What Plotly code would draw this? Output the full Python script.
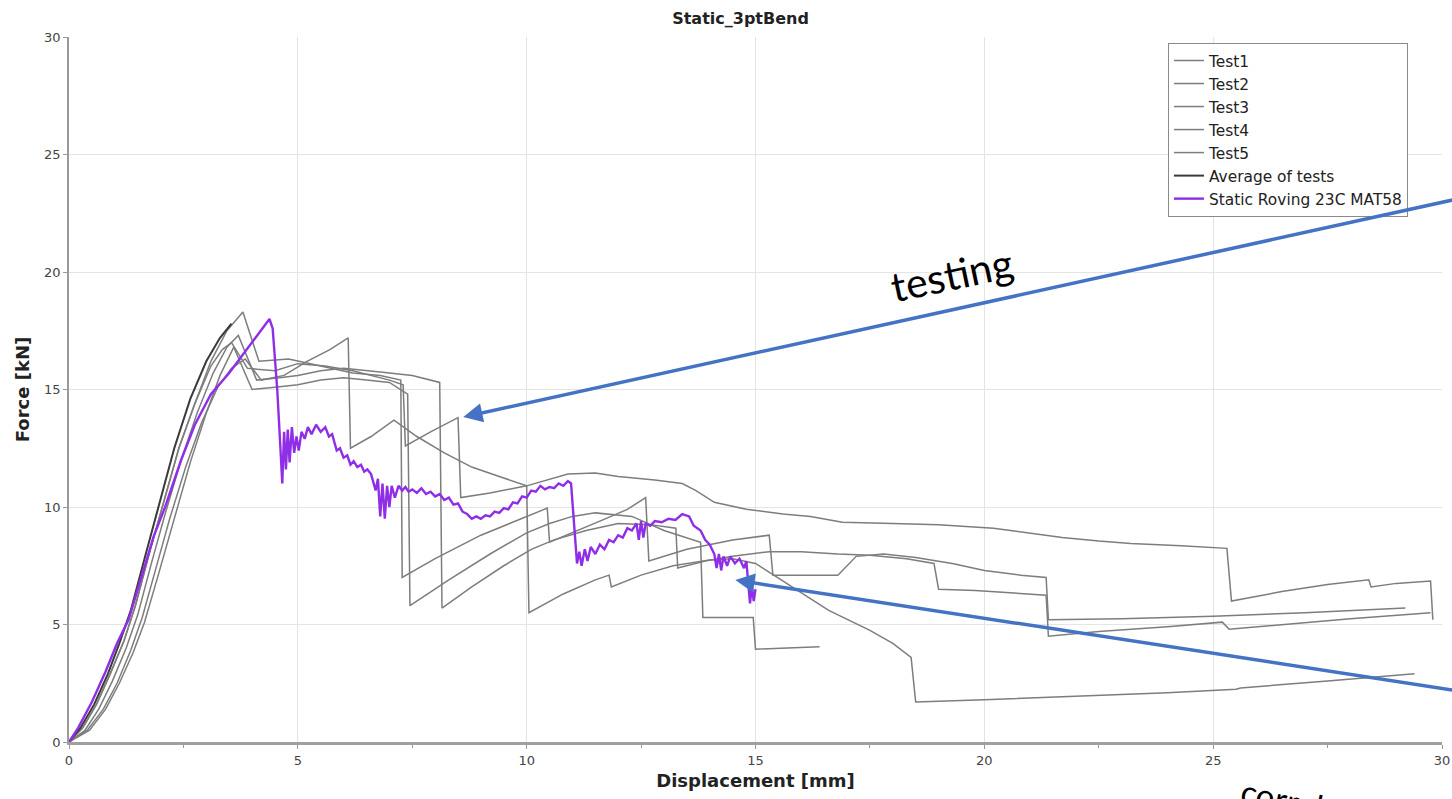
import plotly.graph_objects as go

# ---------------- data ----------------
test1_x = [0, 0.3, 0.6, 0.9, 1.2, 1.45, 1.75, 2.05, 2.4, 2.75, 3.1, 3.35, 3.55,
           3.9, 4.5, 5.0, 5.6, 6.2, 7.0, 7.3, 7.35, 7.9, 8.5, 8.56, 9.2, 10.0, 10.9, 11.5,
           12.0, 12.8, 13.4, 13.7, 14.1, 14.8, 15.6, 16.2, 16.9, 18.0, 19.0, 20.2, 21.0,
           21.7, 22.5, 23.2, 24.3, 25.3, 25.4, 26.5, 27.5, 28.4, 28.45, 29.0, 29.75, 29.8]
test1_y = [0, 0.6, 1.6, 2.9, 4.3, 5.8, 8.0, 10.1, 12.5, 14.4, 16.0, 16.7, 17.0,
           15.9, 15.8, 16.1, 16.0, 15.8, 15.4, 15.2, 12.6, 13.2, 13.8, 10.4, 10.6, 10.9, 11.4, 11.45,
           11.3, 11.15, 11.0, 10.7, 10.2, 9.9, 9.7, 9.6, 9.35, 9.3, 9.25, 9.1, 8.9,
           8.7, 8.55, 8.45, 8.35, 8.24, 6.0, 6.4, 6.7, 6.9, 6.6, 6.75, 6.85, 5.2]

test2_x = [0, 0.3, 0.6, 0.9, 1.2, 1.45, 1.75, 2.05, 2.4, 2.75, 3.1, 3.45, 3.8,
           4.15, 4.8, 5.5, 6.2, 6.8, 7.25, 7.28, 8.0, 9.0, 10.0, 10.45, 10.5, 11.0, 11.6,
           12.2, 12.6, 12.67, 13.5, 14.5, 15.3, 15.38, 16.2, 16.8, 17.2, 17.8, 18.5, 19.3,
           20.0, 20.8, 21.35, 21.4, 23.0, 25.0, 27.0, 29.2]
test2_y = [0, 0.6, 1.6, 2.9, 4.3, 5.8, 8.0, 10.1, 12.5, 14.4, 16.2, 17.5, 18.3,
           16.2, 16.3, 16.0, 15.7, 15.6, 15.4, 7.0, 7.8, 8.8, 9.6, 9.95, 8.5, 8.9, 9.4,
           9.9, 10.4, 7.7, 8.2, 8.6, 8.8, 7.1, 7.1, 7.1, 7.9, 8.0, 7.85, 7.6,
           7.3, 7.1, 7.0, 5.2, 5.25, 5.35, 5.5, 5.7]

test3_x = [0, 0.35, 0.65, 0.95, 1.25, 1.5, 1.8, 2.1, 2.45, 2.8, 3.15, 3.45, 3.7,
           4.1, 4.6, 5.0, 5.5, 6.0, 6.8, 7.5, 8.1, 8.15, 8.8, 9.5, 10.1, 10.6, 11.3, 12.0,
           12.7, 13.26, 13.3, 13.9, 14.5, 15.3, 16.0, 16.8, 17.5, 18.3, 18.9, 19.0, 19.8,
           20.6, 21.35, 21.4, 22.5, 24.0, 25.2, 25.35, 26.5, 28.0, 29.75]
test3_y = [0, 0.5, 1.4, 2.6, 4.0, 5.4, 7.6, 9.7, 12.0, 14.0, 15.7, 16.8, 17.3,
           15.4, 15.5, 15.6, 15.8, 15.9, 15.75, 15.6, 15.3, 5.7, 6.6, 7.5, 8.2, 8.6, 9.0, 9.3,
           9.25, 9.1, 7.4, 7.7, 7.9, 8.1, 8.1, 8.0, 7.95, 7.8, 7.6, 6.5, 6.45,
           6.35, 6.25, 4.5, 4.7, 4.9, 5.1, 4.8, 5.0, 5.25, 5.5]

test4_x = [0, 0.4, 0.75, 1.05, 1.35, 1.6, 1.9, 2.2, 2.55, 2.9, 3.25, 3.55, 3.85,
           4.2, 4.7, 5.2, 5.7, 6.1, 6.15, 6.6, 7.1, 7.6, 8.2, 8.8, 9.4, 10.0, 10.05, 10.8,
           11.5, 11.8, 11.85, 12.5, 13.2, 14.0, 14.5, 15.0, 15.8, 16.6, 17.5, 18.0, 18.4,
           18.5, 20.0, 22.0, 24.0, 25.5, 25.6, 27.5, 29.4]
test4_y = [0, 0.5, 1.4, 2.5, 3.9, 5.3, 7.4, 9.5, 11.7, 13.6, 15.1, 15.9, 16.3,
           15.4, 15.6, 16.2, 16.7, 17.2, 12.5, 13.0, 13.7, 13.0, 12.3, 11.7, 11.3, 10.9, 5.5, 6.3,
           6.9, 7.1, 6.6, 7.1, 7.5, 7.75, 7.8, 7.6, 6.6, 5.6, 4.75, 4.2, 3.6,
           1.7, 1.8, 1.95, 2.1, 2.25, 2.3, 2.6, 2.9]

test5_x = [0, 0.45, 0.8, 1.1, 1.4, 1.65, 1.95, 2.3, 2.65, 3.0, 3.3, 3.6,
           4.0, 4.5, 5.0, 5.5, 6.0, 6.5, 7.0, 7.4, 7.45, 8.3, 9.2, 10.0, 10.5, 11.0, 11.5,
           12.3, 13.0, 13.8, 13.85, 14.4, 14.95, 15.0, 15.7, 16.4]
test5_y = [0, 0.5, 1.4, 2.5, 3.8, 5.1, 7.1, 9.5, 11.9, 14.0, 15.6, 16.8,
           15.0, 15.1, 15.2, 15.4, 15.5, 15.4, 15.3, 14.8, 5.8, 6.9, 8.0, 8.9, 9.3, 9.6, 9.75,
           9.6, 9.0, 8.5, 5.3, 5.3, 5.3, 3.95, 4.0, 4.05]

avg_x = [0, 0.25, 0.55, 0.85, 1.1, 1.35, 1.65, 1.95, 2.3, 2.65, 3.0, 3.3, 3.55]
avg_y = [0, 0.6, 1.6, 2.9, 4.2, 5.6, 7.8, 10.0, 12.5, 14.6, 16.2, 17.2, 17.8]

sim_x = [0, 0.2, 0.5, 0.8, 1.05, 1.3, 1.55, 1.85, 2.1, 2.45, 2.75, 3.1, 3.5, 3.8, 4.1,
         4.38, 4.45, 4.55, 4.62, 4.66, 4.7, 4.74, 4.78, 4.82, 4.87, 4.92, 4.97, 5.02,
         5.08, 5.15, 5.22, 5.3, 5.4, 5.5,
         5.6, 5.68, 5.75, 5.85, 5.92, 6.0, 6.08, 6.15, 6.22, 6.3, 6.38, 6.45, 6.52, 6.6,
         6.7, 6.75, 6.8, 6.85, 6.9, 6.95, 7.0, 7.05, 7.12,
         7.2, 7.28, 7.35, 7.42, 7.5, 7.6, 7.7, 7.8, 7.9, 8.0, 8.1, 8.2, 8.3, 8.4, 8.5,
         8.6, 8.7, 8.8, 8.9, 9.0, 9.1, 9.2, 9.3, 9.4, 9.5, 9.6, 9.7, 9.8, 9.9, 10.0,
         10.1, 10.2, 10.3, 10.4, 10.5, 10.6, 10.7, 10.8, 10.9, 10.97,
         11.0, 11.05, 11.1, 11.15, 11.2, 11.27, 11.33, 11.4, 11.5, 11.6,
         11.7, 11.8, 11.9, 12.0, 12.1, 12.2, 12.3, 12.4, 12.45, 12.5, 12.55, 12.6, 12.7,
         12.8, 12.95, 13.1, 13.25, 13.4, 13.55, 13.65, 13.8, 13.9, 14.0, 14.1, 14.15,
         14.2, 14.25, 14.3, 14.38, 14.45, 14.55, 14.65, 14.75, 14.8, 14.85, 14.88,
         14.92, 14.96, 15.0]
sim_y = [0, 0.6, 1.7, 3.0, 4.2, 5.2, 6.8, 8.75, 10.0, 12.0, 13.5, 14.8, 15.7, 16.5, 17.3,
         18.0, 17.6, 15.0, 12.5, 11.0, 13.2, 11.6, 13.3, 11.9, 13.4, 12.3, 13.0, 12.4,
         13.2, 12.9, 13.4, 13.1, 13.5, 13.2,
         13.4, 13.0, 13.1, 12.4, 12.5, 12.1, 12.2, 11.8, 11.95, 11.7, 11.8, 11.5, 11.6, 11.4,
         10.7, 11.2, 9.6, 11.0, 9.5, 10.9, 10.0, 10.9, 10.4,
         10.9, 10.7, 10.85, 10.65, 10.75, 10.6, 10.8, 10.55, 10.65, 10.45, 10.55, 10.3, 10.4, 10.1, 10.15,
         9.8, 9.7, 9.5, 9.6, 9.5, 9.65, 9.6, 9.8, 9.75, 9.95, 9.9, 10.2, 10.15, 10.45, 10.4,
         10.7, 10.65, 10.9, 10.75, 10.85, 10.8, 11.0, 10.9, 11.1, 11.0,
         10.2, 8.8, 7.6, 8.1, 7.5, 8.2, 7.7, 8.3, 8.0, 8.4,
         8.2, 8.6, 8.5, 8.8, 8.7, 9.1, 9.0, 9.3, 8.6, 9.4, 8.7, 9.3, 9.2,
         9.4, 9.35, 9.5, 9.45, 9.7, 9.6, 9.2, 9.0, 8.6, 8.4, 8.0, 7.4,
         8.0, 7.3, 7.9, 7.5, 7.9, 7.6, 7.8, 7.4, 7.7, 6.3, 5.9,
         6.7, 6.0, 6.5]

x_ticks = [0, 5, 10, 15, 20, 25, 30]
y_ticks = [0, 5, 10, 15, 20, 25, 30]

# ---------------- figure ----------------
GRAY = "#7d7d7d"
PURPLE = "#8f2ee6"
BLUE = "#4472C4"
TICKFONT = dict(family="DejaVu Sans", size=13, color="#444444")
TITLEFONT = dict(family="DejaVu Sans", size=18, color="#222")

fig = go.Figure()
series = [("Test1", test1_x, test1_y, GRAY, 1.5),
          ("Test2", test2_x, test2_y, GRAY, 1.5),
          ("Test3", test3_x, test3_y, GRAY, 1.5),
          ("Test4", test4_x, test4_y, GRAY, 1.5),
          ("Test5", test5_x, test5_y, GRAY, 1.5),
          ("Average of tests", avg_x, avg_y, "#3a3a3a", 2),
          ("Static Roving 23C MAT58", sim_x, sim_y, PURPLE, 2.4)]
for name, xs, ys, col, w in series:
    fig.add_trace(go.Scatter(x=xs, y=ys, mode="lines", name=name,
                             line=dict(color=col, width=w), legendgroup=name))

fig.update_layout(
    width=1452, height=799,
    margin=dict(l=69, r=10, t=37, b=57),
    paper_bgcolor="white", plot_bgcolor="white",
    title=dict(text="<b>Static_3ptBend</b>", x=0.51, xanchor="center", y=1 - 18 / 799,
               yanchor="middle",
               font=dict(family="DejaVu Sans", size=16, color="#222")),
    showlegend=True,
    legend=dict(x=0.8004, y=0.9915, xanchor="left", yanchor="top", bgcolor="white",
                bordercolor="#8a8a8a", borderwidth=1, tracegroupgap=0,
                font=dict(family="DejaVu Sans", size=15.4, color="#222"),
                itemwidth=30, entrywidth=228, entrywidthmode="pixels"),
)
fig.update_xaxes(range=[0, 30], tickvals=x_ticks, ticktext=[str(v) for v in x_ticks],
                 automargin=False,
                 showgrid=True, gridcolor="#e4e4e4", zeroline=False,
                 showline=True, linecolor="#a0a0a0", linewidth=3,
                 ticks="outside", ticklen=4, tickcolor="#999",
                 minor=dict(dtick=2.5, ticks="outside", ticklen=3, tickcolor="#999", showgrid=False),
                 tickfont=TICKFONT,
                 title=dict(text="<b>Displacement [mm]</b>", standoff=8, font=TITLEFONT))
fig.update_yaxes(range=[0, 30], tickvals=y_ticks, ticktext=[str(v) for v in y_ticks],
                 automargin=False,
                 showgrid=True, gridcolor="#e4e4e4", zeroline=False,
                 showline=True, linecolor="#9a9a9a", linewidth=1.5,
                 ticks="outside", ticklen=4, tickcolor="#999",
                 tickfont=TICKFONT,
                 title=dict(text="<b>Force [kN]</b>", standoff=10, font=TITLEFONT))

# overlay annotations (callouts)
fig.add_annotation(x=19.28, y=19.9, xref="x", yref="y", text="testing", showarrow=False,
                   textangle=-12, font=dict(family="Lato", size=41, color="black"))
fig.add_annotation(x=8.615, y=13.83, xref="x", yref="y", ax=30.74, ay=23.28,
                   axref="x", ayref="y", text="", showarrow=True, arrowhead=2,
                   arrowsize=1.1, arrowwidth=3.5, arrowcolor=BLUE)
fig.add_annotation(x=14.56, y=6.89, xref="x", yref="y", ax=30.74, ay=2.06,
                   axref="x", ayref="y", text="", showarrow=True, arrowhead=2,
                   arrowsize=1.1, arrowwidth=3.5, arrowcolor=BLUE)
fig.add_annotation(x=0.9096, y=-0.0908, xref="paper", yref="paper", text="correlation",
                   xanchor="center", yanchor="middle",
                   showarrow=False, textangle=12,
                   font=dict(family="Lato", size=33, color="black"))

fig.write_html("out.html")
